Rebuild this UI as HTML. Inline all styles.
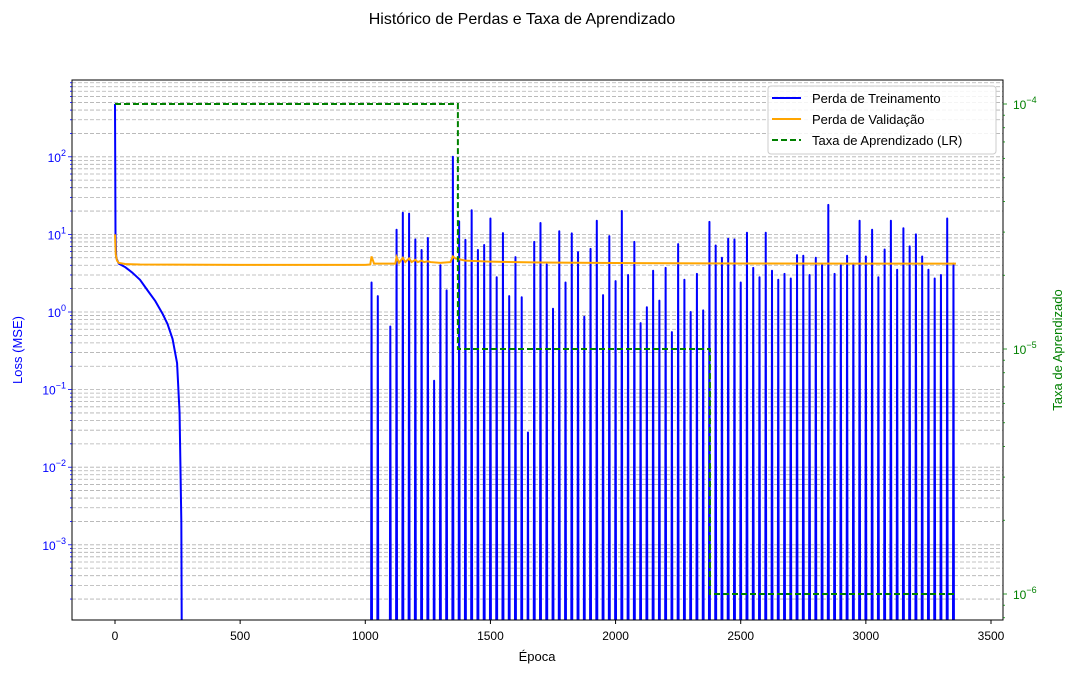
<!DOCTYPE html>
<html><head><meta charset="utf-8"><style>
html,body{margin:0;padding:0;background:#fff;width:1075px;height:674px;overflow:hidden;}
svg{display:block;font-family:"Liberation Sans","DejaVu Sans",sans-serif;}
</style></head><body>
<svg id="chart" width="1075" height="674" viewBox="0 0 1075 674" xmlns="http://www.w3.org/2000/svg">
<text x="522" y="24" font-size="16" text-anchor="middle">Histórico de Perdas e Taxa de Aprendizado</text>
<defs><clipPath id="pc"><rect x="72" y="80" width="931" height="540"/></clipPath></defs>
<g id="grid"></g>
<g id="series" clip-path="url(#pc)"></g>
<rect x="72" y="80" width="931" height="540" fill="none" stroke="#000" stroke-width="1"/>
<g id="axes"></g>
<text x="537" y="661" font-size="13" text-anchor="middle">Época</text>
<text transform="translate(22,350) rotate(-90)" font-size="13" text-anchor="middle" fill="blue">Loss (MSE)</text>
<text transform="translate(1062,350) rotate(-90)" font-size="13" text-anchor="middle" fill="green">Taxa de Aprendizado</text>
<g>
<rect x="768" y="86" width="228" height="68" rx="3" fill="#fff" fill-opacity="0.85" stroke="#ccc"/>
<line x1="772" y1="98" x2="801" y2="98" stroke="blue" stroke-width="2"/>
<text x="812" y="103" font-size="13">Perda de Treinamento</text>
<line x1="772" y1="119" x2="801" y2="119" stroke="orange" stroke-width="2"/>
<text x="812" y="124" font-size="13">Perda de Validação</text>
<line x1="772" y1="140" x2="801" y2="140" stroke="green" stroke-width="2" stroke-dasharray="6,3"/>
<text x="812" y="145" font-size="13">Taxa de Aprendizado (LR)</text>
</g>
</svg>
<script>
const earlyEpochs=[0,2,5,15,40,70,100,130,160,190,210,230,248,258,265,270];
const earlyLoss=[480,10,5,4.2,3.8,3.2,2.6,1.9,1.4,0.95,0.7,0.45,0.22,0.05,0.002,1e-7];
const spikeEpochs=[1025,1050,1100,1125,1150,1175,1200,1225,1250,1275,1300,1325,1350,1375,1400,1425,1450,1475,1500,1525,1550,1575,1600,1625,1650,1675,1700,1725,1750,1775,1800,1825,1850,1875,1900,1925,1950,1975,2000,2025,2050,2075,2100,2125,2150,2175,2200,2225,2250,2275,2300,2325,2350,2375,2400,2425,2450,2475,2500,2525,2550,2575,2600,2625,2650,2675,2700,2725,2750,2775,2800,2825,2850,2875,2900,2925,2950,2975,3000,3025,3050,3075,3100,3125,3150,3175,3200,3225,3250,3275,3300,3325,3350];
const spikeLoss=[2.4,1.6,0.65,11.5,19,18.5,8.6,6.3,9,0.13,4,1.9,100,14.7,8.5,20.5,6.3,7.3,16,2.8,10.4,1.6,5.1,1.55,0.028,8,14,4.1,1.1,11,2.4,10.3,5.9,0.87,6.5,15,1.65,9.5,2.5,20,3.0,8,0.72,1.15,3.4,1.4,3.7,0.55,7.5,2.6,1.0,3.1,1.05,14.5,7.2,5.0,8.8,8.6,2.4,10.5,3.7,2.8,10.5,3.4,2.6,3.1,2.7,5.4,5.3,3.0,5.0,4.0,24,3.1,4.0,5.3,4.2,15,5.2,11.5,2.8,6.4,15,3.5,12,7,10,5.2,3.5,2.7,3.0,16,4.2];
const valEpochs=[0,3,8,15,40,100,500,1000,1020,1025,1035,1120,1125,1135,1150,1160,1175,1185,1200,1210,1225,1235,1250,1260,1300,1340,1350,1360,1400,1500,1700,2000,2500,3000,3360];
const valLoss=[10,5.5,4.6,4.3,4.15,4.1,4.05,4.05,4.1,5.2,4.2,4.2,5.1,4.3,5.0,4.4,4.9,4.4,4.7,4.4,4.6,4.4,4.5,4.4,4.3,4.4,5.2,4.9,4.6,4.45,4.35,4.28,4.22,4.2,4.2];
const lrEpochs=[0,1370,1370,2377,2377,3360];
const lrValues=[1e-4,1e-4,1e-5,1e-5,1e-6,1e-6];
const yTicks=[-3,-2,-1,0,1,2];
const y2Ticks=[-6,-5,-4];
const xTicks=[0,500,1000,1500,2000,2500,3000,3500];

const NS="http://www.w3.org/2000/svg";
const X=e=>115+e*876/3500;
const Y=v=>312-Math.log10(v)*77.6;
const Y2=v=>104-(Math.log10(v)+4)*245;
function mk(tag,attrs,parent){const el=document.createElementNS(NS,tag);for(const k in attrs)el.setAttribute(k,attrs[k]);parent.appendChild(el);return el;}
const grid=document.getElementById('grid'),series=document.getElementById('series'),axes=document.getElementById('axes');
for(let d=-4;d<=2;d++){for(let m=1;m<10;m++){const y=Y(m*Math.pow(10,d));if(y<80||y>620)continue;
 const l=mk('line',{x1:72,x2:1003,y1:y,y2:y,stroke:'#b0b0b0','stroke-width':0.8,'stroke-dasharray':'4,2'},grid);
 
 
 const t=mk('line',{x1:72-(m==1?4:2),x2:72,y1:y,y2:y,stroke:'blue','stroke-width':0.8},axes);
 
 }}
yTicks.forEach(p=>{const t=mk('text',{x:66,y:Y(Math.pow(10,p))+5,'font-size':12,'text-anchor':'end',fill:'blue'},axes);
 
 
 t.innerHTML='10<tspan dy="-6" font-size="9">'+(p<0?'−'+Math.abs(p):p)+'</tspan>';});
for(let d=-7;d<=-4;d++){for(let m=1;m<10;m++){const y=Y2(m*Math.pow(10,d));if(y<80||y>620)continue;
 const t=mk('line',{x1:1003,x2:1003+(m==1?4:2),y1:y,y2:y,stroke:'green','stroke-width':0.8},axes);
 
 }}
y2Ticks.forEach(p=>{const t=mk('text',{x:1013,y:Y2(Math.pow(10,p))+5,'font-size':12,fill:'green'},axes);
 
 
 t.innerHTML='10<tspan dy="-6" font-size="9">−'+Math.abs(p)+'</tspan>';});
xTicks.forEach(v=>{const x=X(v);const l=mk('line',{x1:x,x2:x,y1:620,y2:624,stroke:'#000'},axes);
 
 
 const t=mk('text',{x:x,y:640,'font-size':12,'text-anchor':'middle'},axes);t.textContent=v;
 
 });
const floor=1e-7;let pts=earlyEpochs.map((e,i)=>[X(e),Y(earlyLoss[i])]);
spikeEpochs.forEach((e,i)=>{pts.push([X(e-3),Y(floor)]);pts.push([X(e),Y(spikeLoss[i])]);pts.push([X(e+3),Y(floor)]);});
const tr=mk('polyline',{points:pts.map(p=>p.join(',')).join(' '),fill:'none',stroke:'blue','stroke-width':2,'stroke-linejoin':'round'},series);


const vl=mk('polyline',{points:valEpochs.map((e,i)=>X(e)+','+Y(valLoss[i])).join(' '),fill:'none',stroke:'orange','stroke-width':2},series);


const lr=mk('polyline',{points:lrEpochs.map((e,i)=>X(e)+','+Y2(lrValues[i])).join(' '),fill:'none',stroke:'green','stroke-width':2,'stroke-dasharray':'6,3'},series);


</script>
</body></html>
